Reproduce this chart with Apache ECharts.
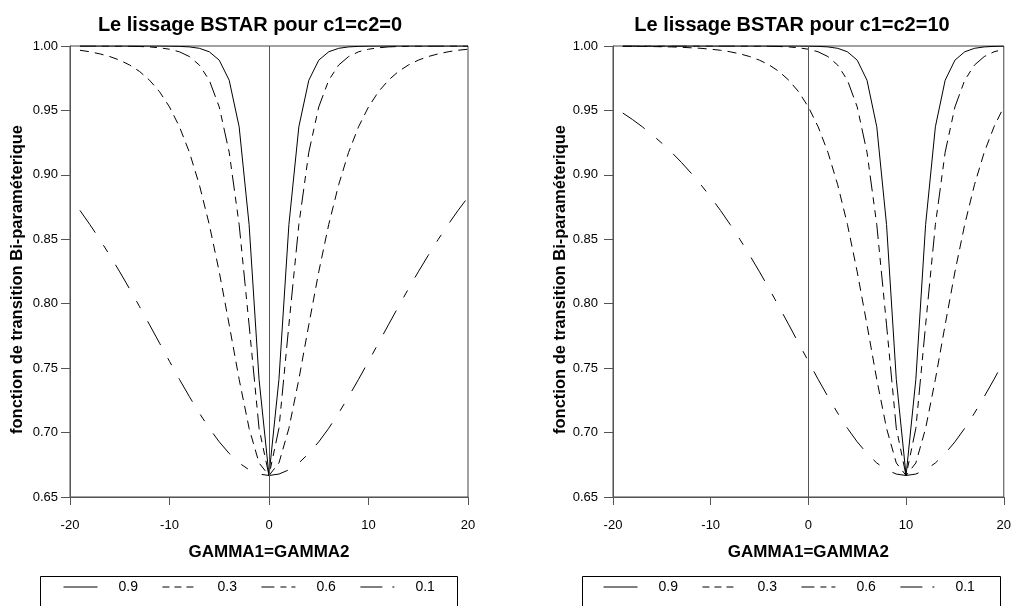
<!DOCTYPE html>
<html>
<head>
<meta charset="utf-8">
<script src="https://cdn.jsdelivr.net/npm/echarts@6/dist/echarts.min.js"></script>
<style>html,body{margin:0;padding:0;background:#fff;}#c{width:1014px;height:606px;}</style>
</head>
<body>
<div id="c"></div>
<script>
// GAMMA1=GAMMA2 values (x)
var gamma = [-19,-18,-17,-16,-15,-14,-13,-12,-11,-10,-9,-8,-7,-6,-5,-4,-3,-2,-1,0,1,2,3,4,5,6,7,8,9,10,11,12,13,14,15,16,17,18,19,20];
var seriesNames = ['0.9', '0.3', '0.6', '0.1'];
var xTicks = [-20, -10, 0, 10, 20];
var yTicks = [0.65, 0.70, 0.75, 0.80, 0.85, 0.90, 0.95, 1.00];
var titleLeft = 'Le lissage BSTAR pour c1=c2=0';
var titleRight = 'Le lissage BSTAR pour c1=c2=10';
var xName = 'GAMMA1=GAMMA2';
var yName = 'fonction de transition Bi-paraméterique';

// Left panel (c1=c2=0)
var left09 = [1.0000,1.0000,1.0000,1.0000,1.0000,1.0000,1.0000,1.0000,1.0000,0.9999,0.9997,0.9993,0.9982,0.9955,0.9890,0.9734,0.9373,0.8614,0.7413,0.6667,0.7413,0.8614,0.9373,0.9734,0.9890,0.9955,0.9982,0.9993,0.9997,0.9999,1.0000,1.0000,1.0000,1.0000,1.0000,1.0000,1.0000,1.0000,1.0000,1.0000];
var left03 = [0.9967,0.9955,0.9939,0.9918,0.9890,0.9852,0.9802,0.9734,0.9645,0.9527,0.9373,0.9175,0.8923,0.8614,0.8247,0.7836,0.7413,0.7033,0.6764,0.6667,0.6764,0.7033,0.7413,0.7836,0.8247,0.8614,0.8923,0.9175,0.9373,0.9527,0.9645,0.9734,0.9802,0.9852,0.9890,0.9918,0.9939,0.9955,0.9967,0.9975];
var left06 = [1.0000,1.0000,1.0000,0.9999,0.9999,0.9998,0.9996,0.9993,0.9986,0.9975,0.9955,0.9918,0.9852,0.9734,0.9527,0.9175,0.8614,0.7836,0.7033,0.6667,0.7033,0.7836,0.8614,0.9175,0.9527,0.9734,0.9852,0.9918,0.9955,0.9975,0.9986,0.9993,0.9996,0.9998,0.9999,0.9999,1.0000,1.0000,1.0000,1.0000];
var left01 = [0.8724,0.8614,0.8498,0.8375,0.8247,0.8114,0.7976,0.7836,0.7694,0.7553,0.7413,0.7279,0.7151,0.7033,0.6928,0.6838,0.6764,0.6711,0.6678,0.6667,0.6678,0.6711,0.6764,0.6838,0.6928,0.7033,0.7151,0.7279,0.7413,0.7553,0.7694,0.7836,0.7976,0.8114,0.8247,0.8375,0.8498,0.8614,0.8724,0.8827];

// Right panel (c1=c2=10)
var right09 = [1.0000,1.0000,1.0000,1.0000,1.0000,1.0000,1.0000,1.0000,1.0000,1.0000,1.0000,1.0000,1.0000,1.0000,1.0000,1.0000,1.0000,1.0000,1.0000,0.9999,0.9997,0.9993,0.9982,0.9955,0.9890,0.9734,0.9373,0.8614,0.7413,0.6667,0.7413,0.8614,0.9373,0.9734,0.9890,0.9955,0.9982,0.9993,0.9997,0.9999];
var right03 = [0.9998,0.9998,0.9997,0.9996,0.9994,0.9993,0.9990,0.9986,0.9982,0.9975,0.9967,0.9955,0.9939,0.9918,0.9890,0.9852,0.9802,0.9734,0.9645,0.9527,0.9373,0.9175,0.8923,0.8614,0.8247,0.7836,0.7413,0.7033,0.6764,0.6667,0.6764,0.7033,0.7413,0.7836,0.8247,0.8614,0.8923,0.9175,0.9373,0.9527];
var right06 = [1.0000,1.0000,1.0000,1.0000,1.0000,1.0000,1.0000,1.0000,1.0000,1.0000,1.0000,1.0000,1.0000,0.9999,0.9999,0.9998,0.9996,0.9993,0.9986,0.9975,0.9955,0.9918,0.9852,0.9734,0.9527,0.9175,0.8614,0.7836,0.7033,0.6667,0.7033,0.7836,0.8614,0.9175,0.9527,0.9734,0.9852,0.9918,0.9955,0.9975];
var right01 = [0.9480,0.9429,0.9373,0.9312,0.9246,0.9175,0.9097,0.9013,0.8923,0.8827,0.8724,0.8614,0.8498,0.8375,0.8247,0.8114,0.7976,0.7836,0.7694,0.7553,0.7413,0.7279,0.7151,0.7033,0.6928,0.6838,0.6764,0.6711,0.6678,0.6667,0.6678,0.6711,0.6764,0.6838,0.6928,0.7033,0.7151,0.7279,0.7413,0.7553];

var FONT = "'Liberation Sans', Arial, sans-serif";
var seriesDash = { '0.9': 'solid', '0.3': [9, 6], '0.6': [16, 6, 7, 6, 7, 6], '0.1': [27, 15, 8, 15] };
var legendDash = { '0.9': 'solid', '0.3': [7, 5], '0.6': [13, 6, 6, 5, 5, 8], '0.1': [22, 10, 2, 10] };

function pairs(vals) { return gamma.map(function (g, i) { return [g, vals[i]]; }); }

var panels = [
  { grid: { left: 70, top: 46, width: 398, height: 451 }, data: [left09, left03, left06, left01], labelMargin: 12 },
  { grid: { left: 613, top: 46, width: 397, height: 451 }, data: [right09, right03, right06, right01], labelMargin: 15 }
];

var grids = [], xAxes = [], yAxes = [], series = [];
panels.forEach(function (p, pi) {
  grids.push(Object.assign({ show: true, borderColor: '#444', borderWidth: 1, backgroundColor: 'transparent' }, p.grid));
  xAxes.push({
    gridIndex: pi, type: 'value', min: xTicks[0], max: xTicks[xTicks.length - 1], interval: 10,
    name: xName, nameLocation: 'middle', nameGap: 47,
    nameTextStyle: { fontFamily: FONT, fontWeight: 'bold', fontSize: 17, color: '#000' },
    axisLine: { show: true, onZero: false, lineStyle: { color: '#555', width: 1 } },
    axisTick: { show: true, inside: false, length: 8, lineStyle: { color: '#555' } },
    axisLabel: { fontFamily: FONT, fontSize: 13, color: '#000', margin: 22 },
    splitLine: { show: false }
  });
  yAxes.push({
    gridIndex: pi, type: 'value', min: yTicks[0], max: yTicks[yTicks.length - 1], interval: 0.05,
    name: yName, nameLocation: 'middle', nameGap: 44, nameRotate: 90,
    nameTextStyle: { fontFamily: FONT, fontWeight: 'bold', fontSize: 16.5, color: '#000', padding: [0, 16, 0, 0] },
    axisLine: { show: true, onZero: false, lineStyle: { color: '#555', width: 1 } },
    axisTick: { show: true, inside: false, length: 9, lineStyle: { color: '#555' } },
    axisLabel: { fontFamily: FONT, fontSize: 13, color: '#000', margin: p.labelMargin,
      formatter: function (v) { return v.toFixed(2); } },
    splitLine: { show: false }
  });
  seriesNames.forEach(function (name, si) {
    var s = {
      name: name, type: 'line', xAxisIndex: pi, yAxisIndex: pi,
      data: pairs(p.data[si]), symbol: 'none', smooth: false, silent: true,
      lineStyle: { color: '#000', width: 1, type: seriesDash[name] },
      itemStyle: { color: '#000' }
    };
    if (si === 0) {
      s.markLine = {
        silent: true, symbol: ['none', 'none'], animation: false,
        label: { show: false },
        lineStyle: { color: '#555', width: 1, type: 'solid' },
        data: [{ xAxis: 0 }]
      };
    }
    series.push(s);
  });
});

function legendFor(leftPos) {
  return {
    left: leftPos, top: 580, orient: 'horizontal', padding: 0,
    itemWidth: 34, itemHeight: 14, itemGap: 24, selectedMode: false,
    textStyle: { fontFamily: FONT, fontSize: 14, color: '#000', padding: [0, 0, 0, 16] },
    data: seriesNames.map(function (n) {
      return {
        name: n,
        lineStyle: { color: '#000', width: 1, type: legendDash[n] },
        itemStyle: { color: 'rgba(0,0,0,0)', borderColor: 'rgba(0,0,0,0)', borderWidth: 0, opacity: 0 }
      };
    })
  };
}

var chart = echarts.init(document.getElementById('c'), null, { renderer: 'canvas' });
chart.setOption({
  animation: false,
  backgroundColor: '#fff',
  grid: grids,
  xAxis: xAxes,
  yAxis: yAxes,
  legend: [legendFor(63), legendFor(603)],
  graphic: [
    { type: 'rect', shape: { x: 40.5, y: 576.5, width: 417, height: 60 }, style: { fill: 'none', stroke: '#000', lineWidth: 1 }, z: -1 },
    { type: 'rect', shape: { x: 582.5, y: 576.5, width: 418, height: 60 }, style: { fill: 'none', stroke: '#000', lineWidth: 1 }, z: -1 },
    { type: 'text', x: 250, y: 25, style: { text: titleLeft, font: "bold 20px 'Liberation Sans', Arial, sans-serif", fill: '#000', align: 'center', verticalAlign: 'middle' } },
    { type: 'text', x: 792, y: 25, style: { text: titleRight, font: "bold 20px 'Liberation Sans', Arial, sans-serif", fill: '#000', align: 'center', verticalAlign: 'middle' } }
  ],
  series: series
});
</script>
</body>
</html>
